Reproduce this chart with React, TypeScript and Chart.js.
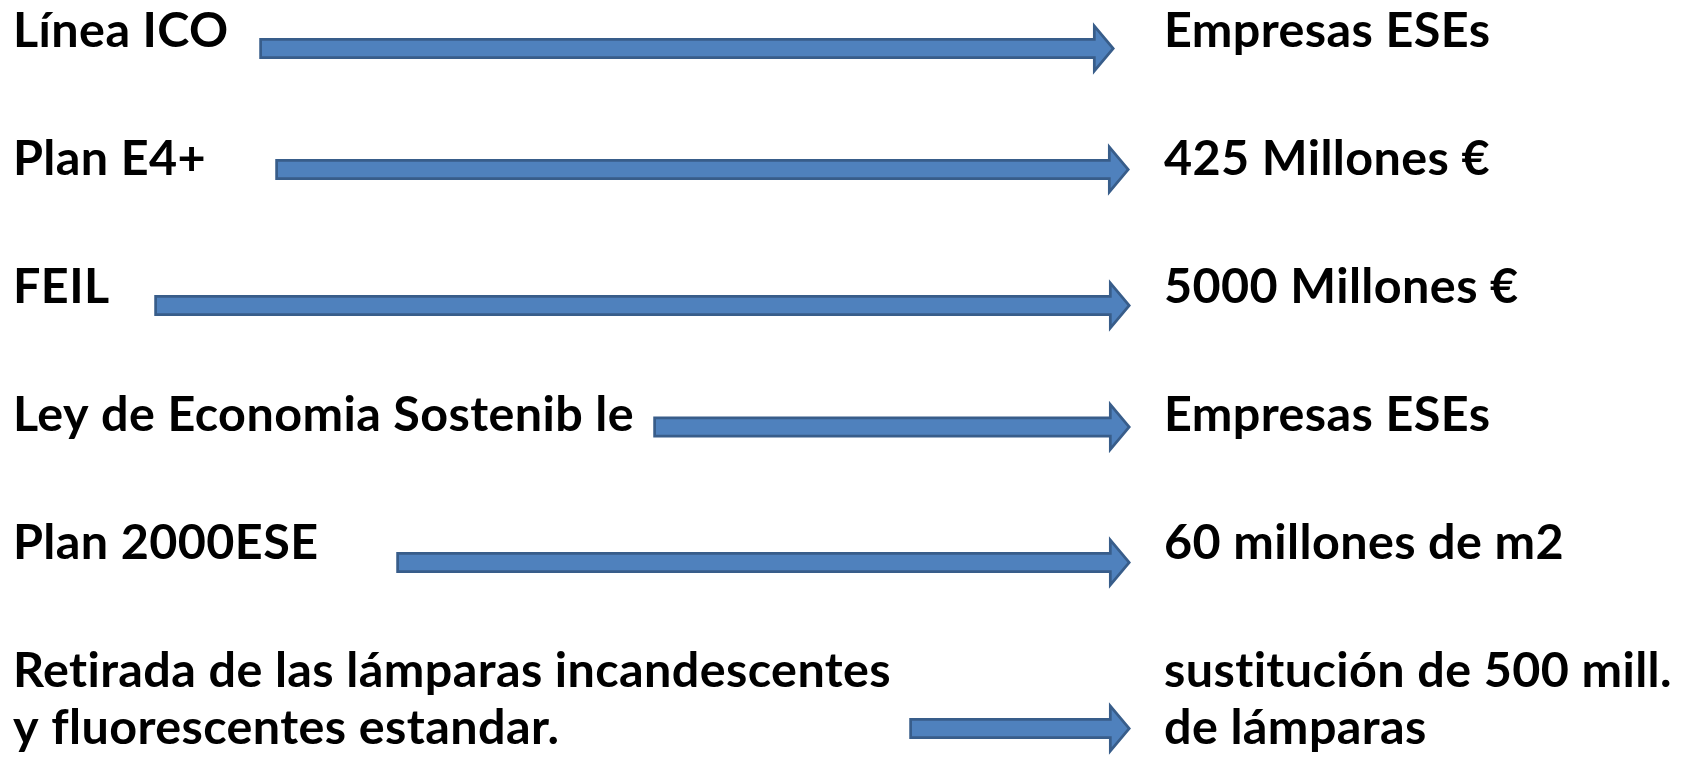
import React, { useEffect, useRef } from "react";
import { Chart, registerables } from "chart.js";

Chart.register(...registerables);

// ---- data ----
const programs: (string | string[])[] = [
  "Línea ICO",
  "Plan E4+",
  "FEIL",
  "Ley de Economia Sostenib le",
  "Plan 2000ESE",
  ["Retirada de las lámparas incandescentes", "y fluorescentes estandar."],
];
const results: (string | string[])[] = [
  "Empresas ESEs",
  "425 Millones €",
  "5000 Millones €",
  "Empresas ESEs",
  "60 millones de m2",
  ["sustitución de 500 mill.", "de lámparas"],
];
const arrowRow = [48.5, 169.5, 305.5, 427, 562.5, 728.5];
const arrowStart = [262, 278, 157, 656, 399, 912];
const arrowEnd = [1115, 1130, 1131, 1131, 1131, 1131];
const textRow = [47, 175, 303, 431, 559, 687];

// ---- style ----
const W = 1692;
const H = 759;
const LEFT_X = 13;
const RIGHT_X = 1164;
const LINE_GAP = 57;
const FONT = "bold 48.5px Lato";
const LETTER_SPACING = "0.4px";
const FILL = "#4F81BD";
const STROKE = "#385D8A";
const LW = 5.5;
const SHAFT_HALF = 7.75;
const HEAD_HALF = 18.75;
const HEAD_DEPTH = 15.7;
const TIP_EXT = 3.6;

const diagramPlugin = {
  id: "diagram",
  afterDatasetsDraw(chart: any) {
    const { ctx, scales } = chart;
    const xs = scales.x;
    const ys = scales.y;
    ctx.save();
    // arrows
    for (let i = 0; i < arrowRow.length; i++) {
      const x0 = xs.getPixelForValue(arrowStart[i]);
      const tip = xs.getPixelForValue(arrowEnd[i]) - TIP_EXT;
      const yc = ys.getPixelForValue(arrowRow[i]);
      const xb = tip - HEAD_DEPTH;
      ctx.beginPath();
      ctx.moveTo(x0, yc - SHAFT_HALF);
      ctx.lineTo(xb, yc - SHAFT_HALF);
      ctx.lineTo(xb, yc - HEAD_HALF);
      ctx.lineTo(tip, yc);
      ctx.lineTo(xb, yc + HEAD_HALF);
      ctx.lineTo(xb, yc + SHAFT_HALF);
      ctx.lineTo(x0, yc + SHAFT_HALF);
      ctx.closePath();
      ctx.lineJoin = "miter";
      ctx.lineWidth = LW;
      ctx.strokeStyle = STROKE;
      ctx.stroke();
      ctx.fillStyle = FILL;
      ctx.fill();
    }
    // text
    ctx.font = FONT;
    try {
      (ctx as any).letterSpacing = LETTER_SPACING;
    } catch (e) {
      /* ignore */
    }
    ctx.fillStyle = "#000000";
    ctx.textBaseline = "alphabetic";
    ctx.textAlign = "left";
    const drawLabel = (label: string | string[], xv: number, yv: number) => {
      const lines = Array.isArray(label) ? label : [label];
      const px = xs.getPixelForValue(xv);
      const py = ys.getPixelForValue(yv);
      lines.forEach((ln, k) => ctx.fillText(ln, px, py + k * LINE_GAP));
    };
    for (let i = 0; i < programs.length; i++) {
      drawLabel(programs[i], LEFT_X, textRow[i]);
      drawLabel(results[i], RIGHT_X, textRow[i]);
    }
    ctx.restore();
  },
};

export default function App() {
  const ref = useRef<HTMLCanvasElement | null>(null);
  useEffect(() => {
    document.body.style.margin = "0";
    const canvas = ref.current;
    if (!canvas) return;
    const chart = new Chart(canvas, {
      type: "scatter",
      data: {
        datasets: [
          {
            label: "arrows",
            data: arrowRow.map((r, i) => ({ x: arrowStart[i], y: r })),
            pointRadius: 0,
            pointHoverRadius: 0,
          },
        ],
      },
      options: {
        responsive: false,
        maintainAspectRatio: false,
        animation: false,
        events: [],
        layout: { padding: 0 },
        plugins: { legend: { display: false }, tooltip: { enabled: false } },
        scales: {
          x: { type: "linear", display: false, min: 0, max: W },
          y: { type: "linear", display: false, min: 0, max: H, reverse: true },
        },
      },
      plugins: [diagramPlugin],
    });
    return () => chart.destroy();
  }, []);
  return (
    <div style={{ width: W, height: H, background: "#ffffff" }}>
      <canvas ref={ref} width={W} height={H} style={{ display: "block" }} />
    </div>
  );
}
